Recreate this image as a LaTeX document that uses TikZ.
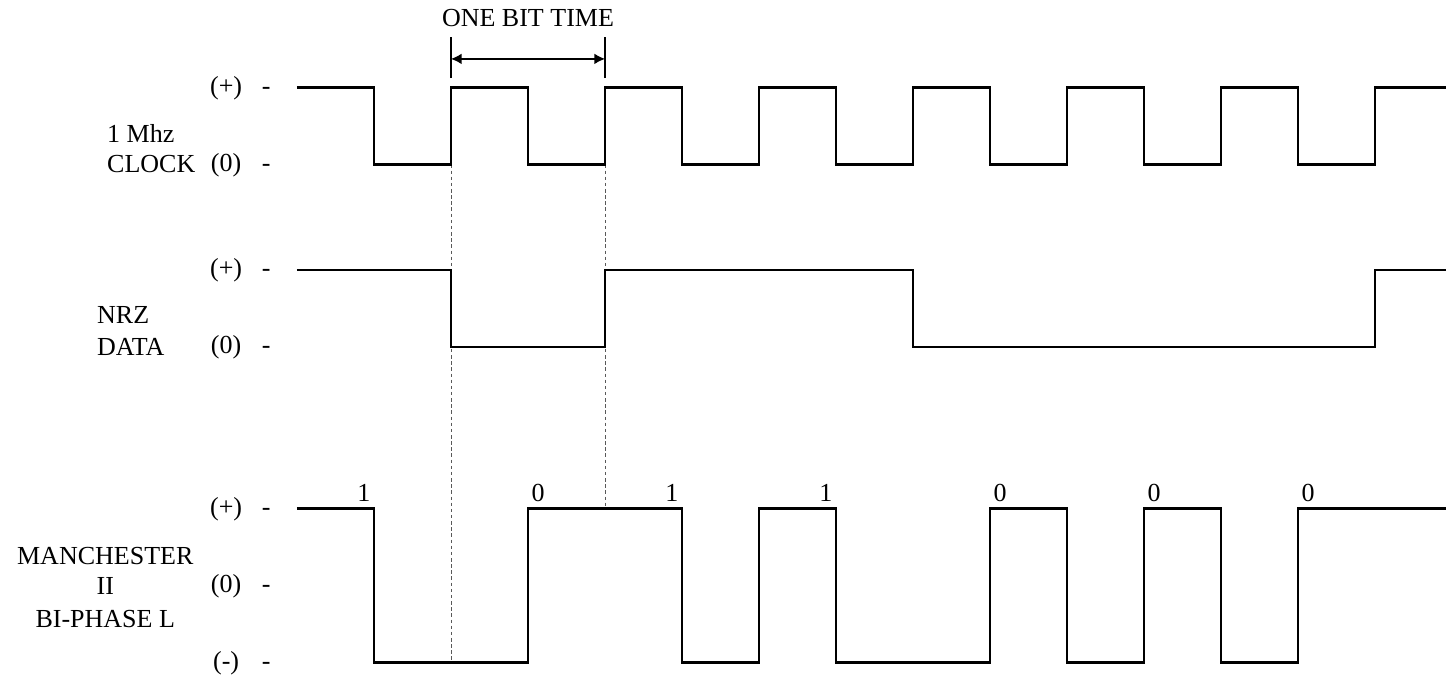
\documentclass[tikz,border=0pt]{standalone}
\usepackage{fontspec}
\setmainfont{Liberation Serif}
\usetikzlibrary{arrows.meta}

\begin{document}
\begin{tikzpicture}[x=1.54cm, y=1.54cm, line width=1.3pt,
    font=\fontsize{14.8}{17}\selectfont,
    wave/.style={line width=1.3pt, line join=miter},
    gridline/.style={line width=0.5pt, black!65, dash pattern=on 2pt off 1.5pt},
    lbl/.style={anchor=base, inner sep=0pt}]
\useasboundingbox (-3.857,0) rectangle (14.922,8.805);

% levels of the three traces, one x unit = half a bit time
\def\clkhi{7.67} \def\clklo{6.67}
\def\nrzhi{5.3}  \def\nrzlo{4.3}
\def\mhi{2.2}    \def\mzero{1.2}  \def\mlo{0.2}
\def\xend{14.92}

% bit boundaries
\coordinate (g2t) at (2,\clklo);
\coordinate (g2b) at (2,\mlo);
\coordinate (g4t) at (4,\clklo);
\coordinate (g4b) at (4,\mhi);
\draw[gridline] (g2t) -- (g2b);
\draw[gridline] (g4t) -- (g4b);

% 1 Mhz clock
\draw[wave] (0,\clkhi) foreach \k in {1,3,...,13} {
    -- (\k,\clkhi) -- (\k,\clklo) -- (\k+1,\clklo) -- (\k+1,\clkhi)
} -- (\xend,\clkhi);

% NRZ data
\draw[wave] (0,\nrzhi) -- (2,\nrzhi) -- (2,\nrzlo) -- (4,\nrzlo) -- (4,\nrzhi)
    -- (8,\nrzhi) -- (8,\nrzlo) -- (14,\nrzlo) -- (14,\nrzhi) -- (\xend,\nrzhi);

% manchester II bi-phase L
\draw[wave] (0,\mhi) -- (1,\mhi) -- (1,\mlo) -- (3,\mlo) -- (3,\mhi)
    -- (5,\mhi) -- (5,\mlo) -- (6,\mlo) -- (6,\mhi) -- (7,\mhi) -- (7,\mlo)
    -- (9,\mlo) -- (9,\mhi) -- (10,\mhi) -- (10,\mlo) -- (11,\mlo) -- (11,\mhi)
    -- (12,\mhi) -- (12,\mlo) -- (13,\mlo) -- (13,\mhi) -- (\xend,\mhi);

% bit values over the mid-bit edges
\foreach \k/\b in {1/1, 3/0, 5/1, 7/1, 9/0, 11/0, 13/0} {
    \pgfmathsetmacro{\dx}{\b==1 ? -0.13 : 0.13}
    \node[lbl] (bit\k) at (\k+\dx, 2.29) {\b};
}

% one bit time
\coordinate (t2a) at (2,7.79);
\coordinate (t2b) at (2,8.33);
\coordinate (t4a) at (4,7.79);
\coordinate (t4b) at (4,8.33);
\coordinate (a2) at (2,8.04);
\coordinate (a4) at (4,8.04);
\draw[line width=1.1pt] (t2a) -- (t2b);
\draw[line width=1.1pt] (t4a) -- (t4b);
\draw[{Latex[length=6pt,width=6pt]}-{Latex[length=6pt,width=6pt]}, line width=0.7pt] (a2) -- (a4);
\node[lbl] (obt) at (3,8.455) {ONE BIT TIME};

% level marks
\foreach \nm/\lev/\sym in {ckp/\clkhi/(+), ckz/\clklo/(0), ndp/\nrzhi/(+), ndz/\nrzlo/(0),
                           mcp/\mhi/(+), mcz/\mzero/(0), mcm/\mlo/(-)} {
    \node[lbl] (\nm) at (-0.92,\lev-0.09) {\sym};
    \node[lbl] (\nm-d) at (-0.40,\lev-0.09) {-};
}

% trace names
\node[lbl, anchor=base west] (clk1) at (-2.48,6.96) {1 Mhz};
\node[lbl, anchor=base west] (clk2) at (-2.48,6.57) {CLOCK};
\node[lbl, anchor=base west] (nrz1) at (-2.61,4.61) {NRZ};
\node[lbl, anchor=base west] (nrz2) at (-2.61,4.19) {DATA};
\node[lbl] (man1) at (-2.49,1.47) {MANCHESTER};
\node[lbl] (man2) at (-2.49,1.08) {II};
\node[lbl] (man3) at (-2.49,0.65) {BI-PHASE L};
\end{tikzpicture}
\end{document}
